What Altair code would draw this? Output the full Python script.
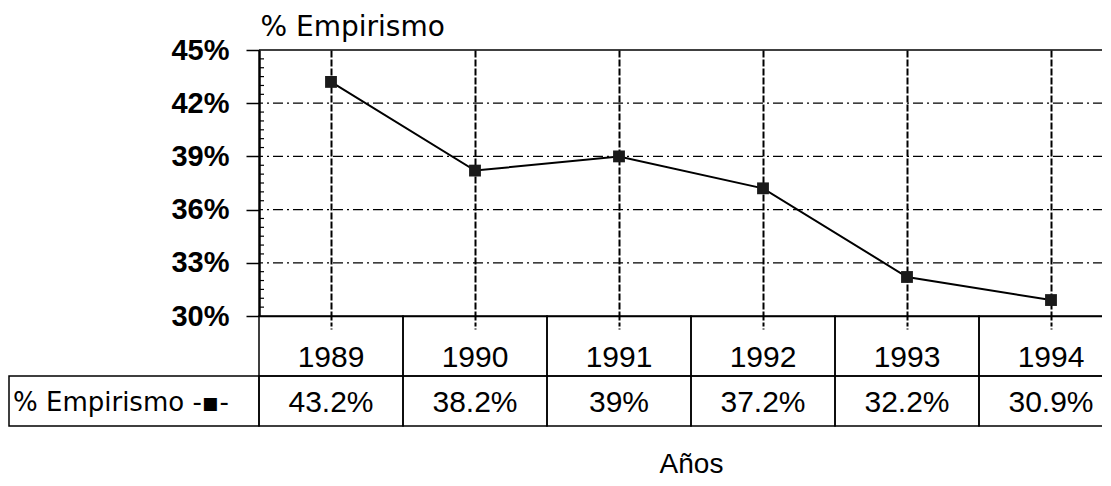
import altair as alt
import pandas as pd

# ---- data ----
years = ["1989", "1990", "1991", "1992", "1993", "1994"]
empirismo = [43.2, 38.2, 39.0, 37.2, 32.2, 30.9]
value_labels = ["43.2%", "38.2%", "39%", "37.2%", "32.2%", "30.9%"]
series_name = "% Empirismo"
x_title = "Años"
y_ticks = [30, 33, 36, 39, 42, 45]
y_grid = [33, 36, 39, 42]
y_top = [45]
y_minor = [v / 2 for v in range(61, 90) if (v / 2) % 3 != 0]

df = pd.DataFrame({"year": years, "value": empirismo, "label": value_labels})

W = 864
H_PLOT = 266
H_YEAR = 60
H_VAL = 50

SANS = "Liberation Sans"
WIDE = "DejaVu Sans"

yscale = alt.Scale(domain=[30, 45], nice=False, zero=False)
xpoint = alt.Scale(type="point", domain=years, padding=0.5)
xband = alt.Scale(type="band", domain=years, paddingInner=0, paddingOuter=0)

y_axis = alt.Axis(
    values=y_ticks,
    labelExpr="datum.value + '%'",
    labelFont=SANS, labelFontSize=29, labelFontWeight="bold", labelColor="black",
    labelPadding=17,
    tickSize=13, tickWidth=1.5, tickColor="black",
    domainColor="black", domainWidth=2.5,
    grid=False,
    title=series_name, titleAngle=0, titleAlign="left", titleBaseline="alphabetic",
    titleX=1, titleY=-15, titleFont=WIDE, titleFontSize=28,
    titleFontWeight="normal", titleColor="black",
)

x_axis = alt.Axis(
    orient="bottom", labels=False, title=None,
    domain=True, domainColor="black", domainWidth=1.5,
    ticks=True, tickSize=13, tickWidth=2, tickColor="black", tickDash=[4, 2],
    grid=True, gridColor="black", gridWidth=2, gridDash=[7, 2], gridOpacity=1,
)

hgrid = alt.Chart(pd.DataFrame({"v": y_grid})).mark_rule(
    color="black", strokeWidth=1.2, strokeDash=[10, 4, 2, 4]
).encode(y=alt.Y("v:Q", scale=yscale, axis=y_axis))

top_border = alt.Chart(pd.DataFrame({"v": y_top})).mark_rule(
    color="black", strokeWidth=1.5
).encode(y=alt.Y("v:Q", scale=yscale, axis=y_axis))

minor = alt.Chart(pd.DataFrame({"v": y_minor})).mark_rule(
    color="black", strokeWidth=1.2
).encode(y=alt.Y("v:Q", scale=yscale, axis=y_axis), x=alt.value(0), x2=alt.value(5))

line = alt.Chart(df).mark_line(color="black", strokeWidth=2).encode(
    x=alt.X("year:N", scale=xpoint, axis=x_axis, sort=years),
    y=alt.Y("value:Q", scale=yscale, axis=y_axis),
)

points = alt.Chart(df).mark_point(
    shape="square", filled=True, size=140, color="#1a1a1a", opacity=1
).encode(
    x=alt.X("year:N", scale=xpoint, axis=x_axis, sort=years),
    y=alt.Y("value:Q", scale=yscale, axis=y_axis),
)

chart_a = alt.layer(hgrid, top_border, minor, line, points).properties(
    width=W, height=H_PLOT
)

# ---- year row ----
year_cells = alt.Chart(df).mark_rect(
    fillOpacity=0, stroke="black", strokeWidth=1.5
).encode(
    x=alt.X("year:N", scale=xband, axis=None, sort=years),
    y=alt.value(0), y2=alt.value(H_YEAR),
)
year_text = alt.Chart(df).mark_text(
    font=SANS, fontSize=30, color="black", baseline="middle", dy=12
).encode(
    x=alt.X("year:N", scale=xband, axis=None, sort=years),
    text="year:N",
)
chart_b = alt.layer(year_cells, year_text).properties(width=W, height=H_YEAR)

# ---- value row ----
val_axis = alt.Axis(
    orient="bottom", labels=False, ticks=False, domain=False,
    title=x_title, titleFont=SANS, titleFontSize=28, titleFontWeight="normal",
    titleColor="black", titlePadding=24,
)
val_cells = alt.Chart(df).mark_rect(
    fillOpacity=0, stroke="black", strokeWidth=1.5
).encode(
    x=alt.X("year:N", scale=xband, axis=val_axis, sort=years),
    y=alt.value(0), y2=alt.value(H_VAL),
)
val_text = alt.Chart(df).mark_text(
    font=SANS, fontSize=30, color="black", baseline="middle", dy=2
).encode(
    x=alt.X("year:N", scale=xband, axis=val_axis, sort=years),
    text="label:N",
)
label_df = pd.DataFrame({"name": [series_name + " -▪-"]})
label_cell = alt.Chart(label_df).mark_rect(
    fillOpacity=0, stroke="black", strokeWidth=1.5
).encode(x=alt.value(-250), x2=alt.value(0), y=alt.value(0), y2=alt.value(H_VAL))
label_text = alt.Chart(label_df).mark_text(
    font=WIDE, fontSize=26, color="black", align="left", baseline="middle", dy=2
).encode(x=alt.value(-246), text="name:N")

chart_c = alt.layer(val_cells, val_text, label_cell, label_text).properties(
    width=W, height=H_VAL
)

chart = alt.vconcat(chart_a, chart_b, chart_c, spacing=0, bounds="flush").properties(
    padding={"left": 0, "top": 5, "right": -22, "bottom": 0},
    background="white",
).configure_view(strokeWidth=0)

chart.save("out.html", embed_options={"renderer": "svg", "actions": False})
